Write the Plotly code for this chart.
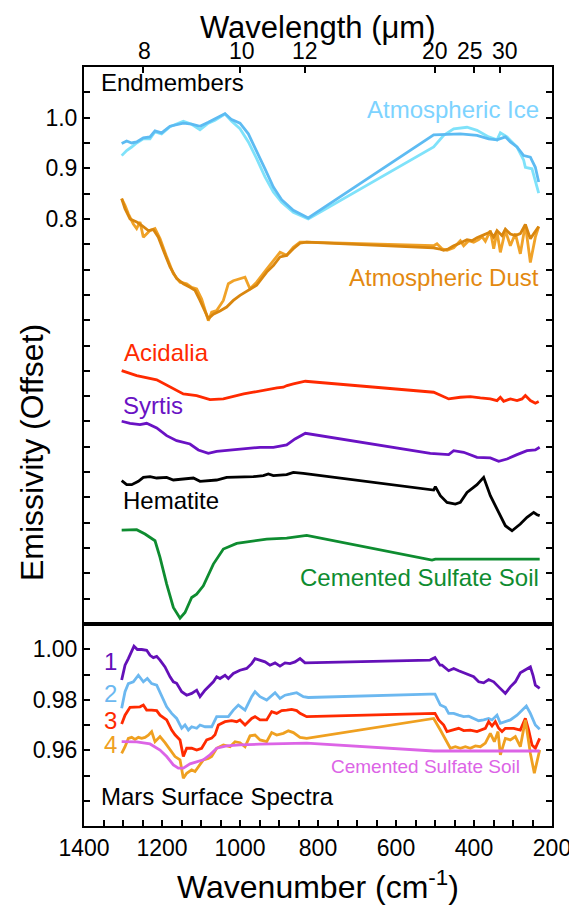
import plotly.graph_objects as go

# ---------------- DATA ----------------
# Upper panel (Endmembers, offset emissivity)
ice_dark_wn = [1303.4,1290.6,1277.8,1265.0,1247.9,1230.8,1218.0,1201.0,1179.5,1145.3,1124.0,1102.6,1081.2,1064.1,1038.5,1021.4,1000.0,978.6,957.3,935.9,914.5,893.2,863.3,825.0,503.4,477.7,435.0,392.3,362.4,341.0,319.6,306.8,289.7,272.6,255.5,242.7,234.1]
ice_dark_em = [0.949,0.954,0.950,0.952,0.960,0.962,0.974,0.970,0.983,0.989,0.987,0.983,0.991,0.998,1.008,0.996,0.989,0.968,0.935,0.899,0.863,0.838,0.817,0.802,0.966,0.967,0.968,0.965,0.958,0.956,0.962,0.952,0.942,0.925,0.922,0.902,0.873]
ice_light_wn = [1303.4,1290.6,1277.8,1265.0,1247.9,1230.8,1218.0,1201.0,1179.5,1145.3,1124.0,1102.6,1081.2,1064.1,1038.5,1021.4,1000.0,978.6,957.3,935.9,914.5,893.2,863.3,825.0,503.4,477.7,452.1,417.9,392.3,362.4,341.0,332.4,315.4,289.7,272.6,268.3,251.3,234.1]
ice_light_em = [0.925,0.935,0.942,0.950,0.958,0.958,0.972,0.968,0.982,0.993,0.987,0.976,0.989,0.995,1.007,0.993,0.978,0.952,0.919,0.883,0.853,0.833,0.813,0.800,0.942,0.965,0.978,0.981,0.975,0.962,0.956,0.970,0.962,0.942,0.916,0.902,0.899,0.851]

dust_dark_wn = [1303.4,1294.9,1282.0,1265.0,1252.1,1235.0,1222.2,1209.4,1196.6,1179.5,1162.4,1145.3,1128.2,1115.4,1102.6,1089.7,1081.2,1068.4,1051.3,1034.2,1017.1,1000.0,978.6,957.3,931.6,914.5,897.4,880.4,863.3,846.2,829.1,
                504.3,490.6,477.7,464.9,452.1,439.3,430.7,417.9,405.1,392.3,379.4,366.6,358.1,349.5,341.0,328.2,319.6,306.8,294.0,281.2,268.3,255.5,242.7,234.1]
dust_dark_em = [0.840,0.820,0.800,0.794,0.787,0.777,0.779,0.764,0.738,0.705,0.682,0.672,0.665,0.659,0.639,0.616,0.603,0.612,0.618,0.626,0.639,0.649,0.659,0.669,0.695,0.708,0.725,0.728,0.741,0.752,0.754,
                0.743,0.741,0.738,0.741,0.747,0.751,0.754,0.759,0.757,0.763,0.767,0.771,0.774,0.764,0.777,0.767,0.780,0.770,0.767,0.771,0.789,0.761,0.774,0.785]
dust_light_wn = [1303.4,1294.9,1286.3,1273.5,1265.0,1256.4,1247.9,1230.8,1218.0,1205.1,1188.0,1171.0,1153.9,1136.8,1124.0,1111.1,1098.3,1085.5,1081.2,1072.6,1059.8,1042.7,1029.9,1017.1,1000.0,987.2,974.4,957.3,931.6,914.5,897.4,880.4,863.3,846.2,829.1,
                 503.4,494.9,482.0,469.2,452.1,435.0,426.5,413.6,400.8,388.0,379.4,370.9,358.1,349.5,341.0,332.4,319.6,306.8,294.0,281.2,268.3,255.5,242.7,234.1]
dust_light_em = [0.840,0.827,0.810,0.790,0.781,0.794,0.764,0.777,0.781,0.761,0.725,0.692,0.675,0.672,0.665,0.662,0.642,0.609,0.599,0.616,0.619,0.639,0.672,0.678,0.682,0.685,0.662,0.675,0.701,0.718,0.734,0.728,0.744,0.754,0.754,
                 0.747,0.751,0.741,0.738,0.743,0.757,0.747,0.757,0.754,0.759,0.765,0.756,0.777,0.741,0.774,0.734,0.777,0.747,0.771,0.731,0.789,0.714,0.764,0.785]

acidalia_wn = [1303.4,1264.9,1213.6,1179.5,1145.3,1111.1,1076.9,1042.7,1008.5,990.6,965.8,923.1,905.1,888.9,879.5,863.2,832.4,503.4,477.7,464.9,435.0,409.4,383.7,358.1,341.0,332.4,323.9,306.8,289.7,276.9,268.3,255.5,242.7,234.1]
acidalia_em = [0.5005,0.4906,0.4821,0.4676,0.4544,0.4511,0.4432,0.4445,0.4511,0.4544,0.4577,0.4643,0.4663,0.4676,0.4709,0.4742,0.4794,0.4577,0.4478,0.4445,0.4478,0.4491,0.4465,0.4445,0.4412,0.4478,0.4399,0.4445,0.4412,0.4445,0.4511,0.4412,0.4359,0.4392]

syrtis_wn = [1303.4,1282.0,1256.4,1239.3,1213.6,1188.0,1162.4,1128.2,1106.8,1081.2,1059.8,1017.1,982.9,948.7,914.5,880.3,858.9,832.4,511.9,477.7,464.9,452.1,426.5,392.3,358.1,336.7,315.4,289.7,264.1,242.7,231.6]
syrtis_em = [0.4004,0.3964,0.3938,0.3964,0.3872,0.3720,0.3621,0.3555,0.3437,0.3371,0.3410,0.3443,0.3476,0.3489,0.3489,0.3536,0.3654,0.3766,0.3371,0.3345,0.3345,0.3424,0.3391,0.3292,0.3279,0.3213,0.3259,0.3345,0.3424,0.3437,0.3490]

hematite_wn = [1303.4,1290.6,1277.7,1260.6,1247.8,1230.7,1213.6,1188.0,1170.9,1145.3,1119.6,1102.5,1076.9,1059.8,1034.2,1000.0,965.8,940.1,927.3,914.5,880.3,863.2,837.6,
               503.4,499.1,486.3,469.2,447.8,435.0,417.9,392.3,375.2,358.1,336.7,319.6,302.5,281.2,264.1,247.0,238.4,231.6]
hematite_em = [0.2830,0.2751,0.2751,0.2817,0.2896,0.2910,0.2883,0.2896,0.2844,0.2863,0.2883,0.2817,0.2830,0.2844,0.2896,0.2896,0.2910,0.2929,0.2962,0.2929,0.2949,0.2995,0.2975,
               0.2646,0.2712,0.2534,0.2402,0.2369,0.2402,0.2600,0.2751,0.2896,0.2534,0.2204,0.1941,0.1842,0.1974,0.2106,0.2204,0.2158,0.2139]

sulfate_wn = [1303.4,1264.9,1243.6,1217.9,1205.1,1188.0,1170.9,1153.8,1141.0,1123.9,1111.1,1094.0,1068.3,1042.7,1008.5,965.8,931.6,880.3,829.0,507.7,499.1,231.6]
sulfate_em = [0.1855,0.1862,0.1776,0.1644,0.1315,0.0788,0.0326,0.0115,0.0227,0.0524,0.0590,0.0755,0.1183,0.1480,0.1592,0.1644,0.1677,0.1697,0.1750,0.1262,0.1282,0.1282]

# Lower panel (Mars surface spectra)
s1_wn = [1303.4,1294.8,1286.3,1277.7,1271.8,1263.2,1252.1,1239.3,1230.7,1222.2,1213.6,1205.1,1192.3,1179.4,1170.9,1162.4,1149.5,1136.7,1123.9,1111.1,1102.5,1089.7,1076.9,1068.3,1059.8,1051.3,1038.4,1029.9,1017.1,1000.0,982.9,970.1,961.5,948.7,935.9,923.1,910.2,897.4,884.6,871.8,859.0,846.1,833.3,512.8,500.0,487.2,482.0,464.9,452.1,439.3,426.5,413.6,400.8,388.0,375.2,362.4,349.5,336.7,319.6,306.8,294.0,281.2,268.3,255.5,248.7,242.7,231.6]
s1_em = [0.9878,0.9937,0.9963,0.9989,1.0012,0.9999,0.9999,0.9996,0.9976,0.9967,0.9972,0.9957,0.9930,0.9891,0.9871,0.9865,0.9832,0.9818,0.9825,0.9838,0.9812,0.9838,0.9858,0.9871,0.9891,0.9884,0.9897,0.9884,0.9904,0.9917,0.9924,0.9943,0.9963,0.9957,0.9950,0.9937,0.9946,0.9933,0.9946,0.9943,0.9950,0.9963,0.9946,0.9957,0.9967,0.9937,0.9937,0.9915,0.9924,0.9915,0.9907,0.9897,0.9891,0.9871,0.9867,0.9880,0.9871,0.9851,0.9825,0.9851,0.9871,0.9907,0.9917,0.9930,0.9897,0.9858,0.9845]

s2_wn = [1303.4,1294.8,1286.3,1273.5,1260.6,1247.8,1237.6,1226.5,1213.6,1200.8,1188.0,1175.2,1162.4,1149.5,1141.0,1132.4,1123.9,1111.1,1102.5,1089.7,1072.6,1059.8,1042.7,1029.9,1017.1,1004.2,987.1,970.1,961.5,948.7,931.6,910.2,897.4,884.6,871.8,854.7,837.6,825.0,512.8,500.0,486.3,473.5,464.9,452.1,439.3,426.5,413.6,400.8,388.0,375.2,362.4,353.8,341.0,332.4,319.6,306.8,289.7,272.6,265.8,255.5,242.7,231.6]
s2_em = [0.9766,0.9832,0.9864,0.9871,0.9897,0.9871,0.9884,0.9864,0.9858,0.9812,0.9772,0.9746,0.9726,0.9687,0.9700,0.9680,0.9693,0.9687,0.9700,0.9693,0.9693,0.9733,0.9733,0.9733,0.9759,0.9779,0.9759,0.9812,0.9832,0.9812,0.9799,0.9828,0.9805,0.9818,0.9822,0.9828,0.9812,0.9809,0.9822,0.9822,0.9779,0.9770,0.9746,0.9746,0.9739,0.9733,0.9735,0.9726,0.9717,0.9720,0.9726,0.9720,0.9739,0.9707,0.9713,0.9720,0.9739,0.9766,0.9775,0.9746,0.9700,0.9683]

s3_wn = [1303.4,1294.8,1282.0,1269.2,1256.4,1247.8,1239.3,1226.5,1213.6,1205.1,1188.0,1175.2,1166.6,1153.8,1145.3,1136.7,1123.9,1111.1,1098.3,1085.4,1072.6,1064.1,1055.5,1038.4,1021.3,1008.5,1000.0,987.1,970.1,961.5,948.7,931.6,918.8,906.0,893.1,880.3,867.5,854.7,846.1,829.0,500.0,490.6,477.7,469.2,452.1,439.3,426.5,409.4,392.3,370.9,362.4,353.8,345.3,336.7,328.2,319.6,298.2,281.2,268.3,259.8,251.2,242.7,231.6]
s3_em = [0.9704,0.9739,0.9770,0.9770,0.9772,0.9779,0.9759,0.9759,0.9757,0.9739,0.9720,0.9680,0.9661,0.9641,0.9575,0.9608,0.9608,0.9601,0.9608,0.9641,0.9648,0.9661,0.9700,0.9713,0.9717,0.9713,0.9720,0.9700,0.9726,0.9733,0.9720,0.9720,0.9753,0.9746,0.9757,0.9759,0.9762,0.9757,0.9746,0.9733,0.9746,0.9720,0.9700,0.9674,0.9680,0.9687,0.9678,0.9680,0.9674,0.9687,0.9713,0.9696,0.9713,0.9687,0.9674,0.9687,0.9687,0.9680,0.9726,0.9680,0.9621,0.9608,0.9647]

s4_wn = [1303.4,1294.8,1286.3,1277.7,1269.2,1260.6,1252.1,1243.6,1235.0,1226.5,1217.9,1205.1,1192.3,1179.4,1166.6,1153.8,1145.3,1136.7,1123.9,1115.3,1106.8,1094.0,1081.2,1072.6,1059.8,1042.7,1025.6,1012.8,1000.0,987.1,974.3,961.5,948.7,931.6,918.8,906.0,888.9,876.0,863.2,846.1,829.0,503.4,486.3,473.5,460.7,447.8,435.0,422.2,409.4,396.5,383.7,370.9,358.1,347.8,338.4,332.4,319.6,306.8,294.0,281.2,268.3,255.5,245.3,231.6]
s4_em = [0.9588,0.9614,0.9647,0.9651,0.9643,0.9651,0.9647,0.9651,0.9660,0.9674,0.9634,0.9654,0.9630,0.9601,0.9575,0.9562,0.9489,0.9509,0.9522,0.9516,0.9535,0.9562,0.9568,0.9575,0.9608,0.9621,0.9614,0.9634,0.9630,0.9614,0.9657,0.9660,0.9641,0.9634,0.9670,0.9660,0.9667,0.9677,0.9670,0.9651,0.9647,0.9726,0.9680,0.9641,0.9608,0.9614,0.9608,0.9614,0.9608,0.9617,0.9614,0.9628,0.9667,0.9634,0.9674,0.9582,0.9647,0.9641,0.9654,0.9614,0.9720,0.9588,0.9509,0.9601]

soil_wn = [1303.4,1264.9,1230.7,1205.1,1188.0,1170.9,1158.1,1145.3,1128.2,1111.1,1094.0,1076.9,1059.8,1034.2,1000.0,948.7,863.2,829.0,503.4,231.6]
soil_em = [0.9634,0.9633,0.9625,0.9601,0.9575,0.9542,0.9529,0.9529,0.9546,0.9555,0.9562,0.9582,0.9608,0.9617,0.9621,0.9624,0.9628,0.9628,0.9597,0.9597]

# Axis ticks
wavelength_um = [8, 10, 12, 20, 25, 30]
wavelength_labels = ["8", "10", "12", "20", "25", "30"]
wn_ticks = list(range(200, 1401, 50))
wn_labels = [str(v) if v % 200 == 0 else "" for v in wn_ticks]
upper_ticks = [round(0.05 * i, 2) for i in range(1, 22)]
upper_labels = {0.8: "0.8", 0.9: "0.9", 1.0: "1.0"}
lower_ticks = [0.94, 0.95, 0.96, 0.97, 0.98, 0.99, 1.00]
lower_labels = {0.96: "0.96", 0.98: "0.98", 1.00: "1.00"}

# ---------------- FIGURE ----------------
FONT = "Liberation Sans, Arial, Helvetica, sans-serif"
LW = 2.8
PAGE_OFF = 8  # default page body margin in the browser

fig = go.Figure()

def add(xs, ys, color, lower=False):
    fig.add_trace(go.Scatter(
        x=xs, y=ys, mode="lines",
        line=dict(color=color, width=LW),
        xaxis="x2" if lower else "x", yaxis="y2" if lower else "y",
        showlegend=False, hoverinfo="skip"))

add(ice_light_wn, ice_light_em, "#7FE2FA")
add(ice_dark_wn, ice_dark_em, "#5DBBF2")
add(dust_light_wn, dust_light_em, "#F0A228")
add(dust_dark_wn, dust_dark_em, "#D9860E")
add(acidalia_wn, acidalia_em, "#FF2A00")
add(syrtis_wn, syrtis_em, "#6A12C4")
add(hematite_wn, hematite_em, "#000000")
add(sulfate_wn, sulfate_em, "#0E8C30")

add(s1_wn, s1_em, "#6410B8", True)
add(s2_wn, s2_em, "#6CB8F0", True)
add(s3_wn, s3_em, "#FF2A00", True)
add(s4_wn, s4_em, "#EFA020", True)
add(soil_wn, soil_em, "#DC64E6", True)

split = 202 / 759

axis_common = dict(showline=True, linewidth=2, linecolor="black", showgrid=False,
                   zeroline=False, ticks="inside", ticklen=6, tickwidth=1.5,
                   tickcolor="black", automargin=False, tickangle=0,
                   tickfont=dict(family=FONT, size=23, color="black"))

fig.update_layout(
    template="none",
    width=577 - PAGE_OFF, height=905 - PAGE_OFF,
    margin=dict(l=84 - PAGE_OFF, r=25, t=67 - PAGE_OFF, b=79, autoexpand=False),
    paper_bgcolor="white", plot_bgcolor="white",
    font=dict(family=FONT, color="black"),
    xaxis=dict(domain=[0, 1], anchor="y", range=[1400, 200], side="top",
               tickmode="array",
               tickvals=[10000.0 / w for w in wavelength_um],
               ticktext=["" for _ in wavelength_um],
               mirror=True, **axis_common),
    yaxis=dict(domain=[split, 1], anchor="x", range=[0, 1.1], tickmode="array",
               tickvals=upper_ticks,
               ticktext=[upper_labels.get(v, "") for v in upper_ticks],
               mirror="allticks", **axis_common),
    xaxis2=dict(domain=[0, 1], anchor="y2", range=[1400, 200], tickmode="array",
                tickvals=wn_ticks, ticktext=wn_labels, mirror=True, **axis_common),
    yaxis2=dict(domain=[0, split], anchor="x2", range=[0.93, 1.01], tickmode="array",
                tickvals=lower_ticks,
                ticktext=[lower_labels.get(v, "") for v in lower_ticks],
                mirror="allticks", **axis_common),
)

def px2paper(px, py):
    return (px - 84) / 468.0, (826 - py) / 759.0

def note(text, px, py, color="black", size=24, xanchor="left", angle=0):
    x, y = px2paper(px, py)
    fig.add_annotation(text=text, x=x, y=y, xref="paper", yref="paper",
                       xanchor=xanchor, yanchor="middle", showarrow=False,
                       textangle=angle,
                       font=dict(family=FONT, size=size, color=color))

# wavelength tick labels (top axis), placed as in the original figure
wl_label_px = [144, 242, 304.5, 434.7, 470.3, 504.7]
for lab, lx in zip(wavelength_labels, wl_label_px):
    note(lab, lx, 51, size=23, xanchor="center")

note("Wavelength (μm)", 318, 27, size=31, xanchor="center")
note("Wavenumber (cm<sup>-1</sup>)", 318, 885, size=32, xanchor="center")
note("Emissivity (Offset)", 32, 453, size=32, xanchor="center", angle=-90)

note("Endmembers", 99, 83)
note("Atmospheric Ice", 541, 109, color="#7DD3FF", xanchor="right")
note("Atmospheric Dust", 541, 277, color="#E3890F", xanchor="right")
note("Acidalia", 122, 352, color="#FF2A00")
note("Syrtis", 121, 405, color="#6A12C4")
note("Hematite", 121, 500, color="#000000")
note("Cemented Sulfate Soil", 541, 577, color="#0E8C30", xanchor="right")

note("1", 110, 661, color="#6410B8", xanchor="center")
note("2", 110, 693, color="#6CB8F0", xanchor="center")
note("3", 110, 720, color="#FF2A00", xanchor="center")
note("4", 110, 744, color="#EFA020", xanchor="center")
note("Cemented Sulfate Soil", 522, 766, color="#DC64E6", size=19, xanchor="right")
note("Mars Surface Spectra", 99, 796)

fig.write_html("out.html")
